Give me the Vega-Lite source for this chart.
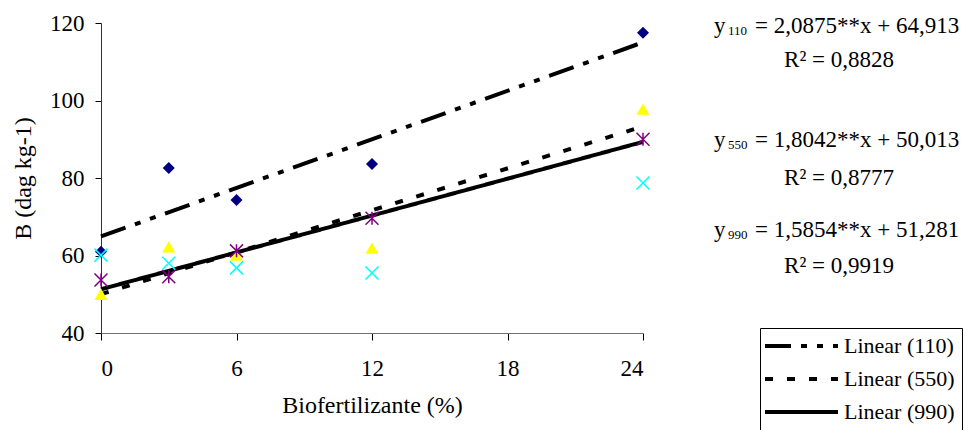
{
  "$schema": "https://vega.github.io/schema/vega-lite/v6.json",
  "width": 542,
  "height": 310,
  "autosize": "none",
  "padding": {"left": 101, "top": 23, "right": 320, "bottom": 97},
  "background": "white",
  "config": {
    "view": {"stroke": null},
    "font": "Liberation Serif",
    "axis": {"grid": false, "labelFont": "Liberation Serif", "titleFont": "Liberation Serif", "labelColor": "black", "titleColor": "black", "labelFontSize": 23, "titleFontSize": 24, "titleFontWeight": "normal", "tickColor": "black", "domainColor": "#555555"},
    "legend": {"orient": "none", "legendX": 659, "legendY": 305, "symbolType": "M-2.6,0L12,0", "symbolSize": 100, "symbolStrokeWidth": 4, "symbolStrokeColor": "black", "labelFont": "Liberation Serif", "labelFontSize": 22, "labelColor": "black", "labelOffset": 55, "rowPadding": 11, "padding": 7, "strokeColor": "black", "fillColor": "white", "labelLimit": 300}
  },
  "datasets": {
    "pts": [
      {"s": "110", "x": 0, "y": 61.0}, {"s": "110", "x": 3, "y": 82.6}, {"s": "110", "x": 6, "y": 74.3}, {"s": "110", "x": 12, "y": 83.6}, {"s": "110", "x": 24, "y": 117.5},
      {"s": "550", "x": 0, "y": 50.0}, {"s": "550", "x": 3, "y": 62.2}, {"s": "550", "x": 6, "y": 60.1}, {"s": "550", "x": 12, "y": 61.9}, {"s": "550", "x": 24, "y": 97.8},
      {"s": "cyan", "x": 0, "y": 60.1}, {"s": "cyan", "x": 3, "y": 58.0}, {"s": "cyan", "x": 6, "y": 56.8}, {"s": "cyan", "x": 12, "y": 55.5}, {"s": "cyan", "x": 24, "y": 78.7},
      {"s": "990", "x": 0, "y": 53.7}, {"s": "990", "x": 3, "y": 54.5}, {"s": "990", "x": 6, "y": 61.2}, {"s": "990", "x": 12, "y": 69.6}, {"s": "990", "x": 24, "y": 90.0}
    ],
    "trend": [
      {"s": "Linear (110)", "x": 0, "y": 64.913}, {"s": "Linear (110)", "x": 24, "y": 115.013},
      {"s": "Linear (550)", "x": 0, "y": 50.013}, {"s": "Linear (550)", "x": 24, "y": 93.314},
      {"s": "Linear (990)", "x": 0, "y": 51.281}, {"s": "Linear (990)", "x": 24, "y": 89.331}
    ],
    "eqmain": [
      {"x": 38, "y": 117.4, "t": "= 2,0875**x + 64,913"},
      {"x": 38, "y": 88.0, "t": "= 1,8042**x + 50,013"},
      {"x": 38, "y": 64.8, "t": "= 1,5854**x + 51,281"}
    ],
    "eqy": [
      {"x": 27.14, "y": 117.4, "t": "y"},
      {"x": 27.14, "y": 88.0, "t": "y"},
      {"x": 27.14, "y": 64.8, "t": "y"}
    ],
    "eqsub": [
      {"x": 27.76, "y": 116.9, "t": "110"},
      {"x": 27.76, "y": 87.5, "t": "550"},
      {"x": 27.76, "y": 64.3, "t": "990"}
    ],
    "r2": [
      {"x": 32.68, "y": 108.6, "t": "R² = 0,8828"},
      {"x": 32.68, "y": 78.2, "t": "R² = 0,8777"},
      {"x": 32.68, "y": 55.5, "t": "R² = 0,9919"}
    ]
  },
  "encoding": {
    "x": {"field": "x", "type": "quantitative", "scale": {"domain": [0, 24], "nice": false, "zero": false},
      "axis": {"values": [0, 6, 12, 18, 24], "title": "Biofertilizante (%)", "tickSize": 7, "labelPadding": 17, "titlePadding": 13, "domainColor": "#707070"}},
    "y": {"field": "y", "type": "quantitative", "scale": {"domain": [40, 120], "nice": false, "zero": false},
      "axis": {"values": [40, 60, 80, 100, 120], "title": "B (dag kg-1)", "tickSize": 6, "labelPadding": 11, "titlePadding": 14, "domainColor": "#333333"}}
  },
  "layer": [
    {
      "data": {"name": "trend"},
      "mark": {"type": "line", "color": "black", "strokeWidth": 4},
      "encoding": {
        "strokeDash": {"field": "s", "type": "nominal",
          "scale": {"domain": ["Linear (110)", "Linear (550)", "Linear (990)"], "range": [[26, 10, 6, 10, 6, 10], [8, 14], [1, 0]]},
          "legend": {"title": null}}
      }
    },
    {
      "data": {"name": "pts"},
      "transform": [{"filter": "datum.s == '110'"}],
      "mark": {"type": "point", "shape": "diamond", "filled": true, "color": "#000080", "size": 144, "opacity": 1}
    },
    {
      "data": {"name": "pts"},
      "transform": [{"filter": "datum.s == '550'"}],
      "mark": {"type": "point", "shape": "triangle-up", "filled": true, "color": "#FFFF00", "size": 169, "opacity": 1}
    },
    {
      "data": {"name": "pts"},
      "transform": [{"filter": "datum.s == 'cyan'"}],
      "mark": {"type": "point", "shape": "M-1,-1L1,1M-1,1L1,-1", "filled": false, "color": "#00FFFF", "strokeWidth": 1.5, "size": 169, "opacity": 1}
    },
    {
      "data": {"name": "pts"},
      "transform": [{"filter": "datum.s == '990'"}],
      "mark": {"type": "point", "shape": "M-1,-1L1,1M-1,1L1,-1M0,-1L0,1", "filled": false, "color": "#800080", "strokeWidth": 1.5, "size": 169, "opacity": 1}
    },
    {
      "data": {"name": "eqmain"},
      "mark": {"type": "text", "align": "right", "baseline": "alphabetic", "fontSize": 23, "font": "Liberation Serif", "color": "black"},
      "encoding": {"text": {"field": "t"}}
    },
    {
      "data": {"name": "eqy"},
      "mark": {"type": "text", "align": "left", "baseline": "alphabetic", "fontSize": 23, "font": "Liberation Serif", "color": "black"},
      "encoding": {"text": {"field": "t"}}
    },
    {
      "data": {"name": "eqsub"},
      "mark": {"type": "text", "align": "left", "baseline": "alphabetic", "fontSize": 13, "font": "Liberation Serif", "color": "black"},
      "encoding": {"text": {"field": "t"}}
    },
    {
      "data": {"name": "r2"},
      "mark": {"type": "text", "align": "center", "baseline": "alphabetic", "fontSize": 23, "font": "Liberation Serif", "color": "black"},
      "encoding": {"text": {"field": "t"}}
    }
  ]
}
